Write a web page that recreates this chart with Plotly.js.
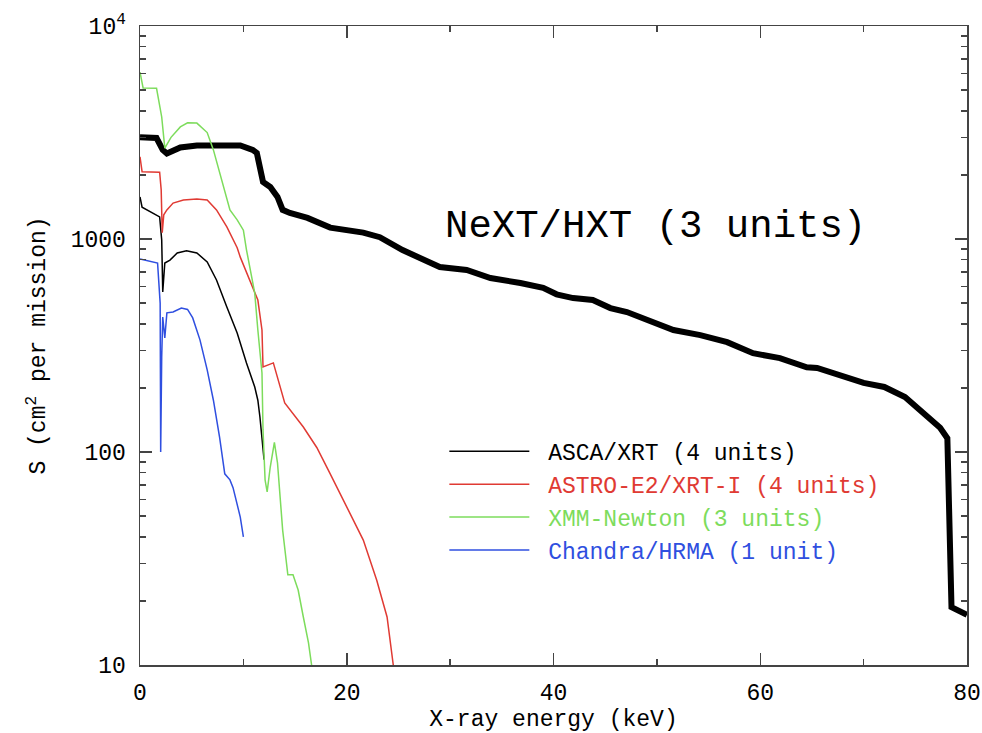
<!DOCTYPE html>
<html>
<head>
<meta charset="utf-8">
<script src="https://cdn.plot.ly/plotly-3.0.1.min.js"></script>
<style>html,body{margin:0;padding:0;background:#fff;}#chart{width:982px;height:733px;}</style>
</head>
<body>
<div id="chart"></div>
<script>
// NeXT/HXT (3 units)
var nextX = [0, 1.6, 2.2, 2.6, 3.9, 5.5, 9.7, 10.3, 10.9, 11.3, 11.6, 11.9, 12.6, 13.3, 13.8, 14.5, 16.2, 18.4, 21.6, 23.2, 25.4, 28.0, 29.0, 31.6, 33.9, 36.8, 39.0, 40.3, 41.9, 43.8, 45.5, 47.1, 48.7, 51.6, 54.2, 56.8, 59.3, 61.9, 64.5, 65.5, 70.0, 72.0, 74.0, 76.0, 77.4, 78.1, 78.5, 80.0];
var nextY = [3000, 2980, 2620, 2520, 2690, 2750, 2750, 2705, 2620, 2535, 2180, 1854, 1755, 1575, 1370, 1325, 1256, 1131, 1072, 1020, 887, 771, 739, 715, 656, 621, 590, 550, 528, 517, 474, 454, 426, 374, 354, 328, 291, 276, 250, 248, 211, 202, 181, 149, 130, 116, 18.7, 17.2];

// ASCA/XRT (4 units)
var ascaX = [0, 0.2, 1.9, 2.1, 2.2, 2.4, 2.9, 3.6, 4.5, 5.5, 6.5, 7.4, 8.4, 9.4, 10.3, 11.1, 11.4, 11.6, 12.0];
var ascaY = [1575, 1410, 1270, 990, 564, 771, 796, 860, 880, 860, 780, 642, 480, 362, 262, 202, 175, 146, 92];

// ASTRO-E2/XRT-I (4 units)
var astroX = [0, 0.2, 1.9, 2.05, 2.15, 2.3, 2.6, 3.2, 4.2, 5.5, 6.5, 7.4, 8.4, 9.4, 9.7, 10.6, 11.4, 11.8, 11.9, 12.9, 14.0, 15.8, 17.1, 18.4, 20.0, 21.6, 22.9, 23.9, 24.5];
var astroY = [2430, 2070, 2060, 1700, 1070, 1300, 1370, 1475, 1525, 1540, 1525, 1370, 1140, 910, 822, 642, 517, 374, 251, 262, 170, 131, 105, 79, 55, 38.6, 25, 16.8, 10];

// XMM-Newton (3 units)
var xmmX = [0, 0.3, 1.6, 2.1, 2.4, 3.0, 3.9, 4.6, 5.5, 6.5, 7.1, 7.7, 8.7, 9.4, 10.0, 10.3, 10.7, 11.1, 11.4, 11.8, 11.9, 12.1, 12.3, 12.6, 13.0, 13.3, 13.8, 14.3, 14.8, 15.3, 15.8, 16.3, 16.6];
var xmmY = [6080, 5120, 5100, 3740, 2670, 3000, 3360, 3510, 3500, 3160, 2620, 2040, 1370, 1230, 1100, 890, 700, 557, 374, 235, 127, 74, 65, 85, 111, 89, 43, 26.5, 26.5, 22.5, 16.8, 12.7, 10];

// Chandra/HRMA (1 unit)
var chandraX = [0, 1.0, 1.7, 1.95, 2.0, 2.1, 2.2, 2.4, 2.6, 3.2, 4.0, 4.6, 5.1, 5.8, 6.5, 7.1, 7.7, 8.2, 8.7, 9.0, 9.7, 10.0];
var chandraY = [805, 788, 771, 500, 100, 280, 430, 343, 450, 454, 474, 467, 426, 336, 243, 175, 117, 79, 74, 68, 49.5, 40];

var yTickVals = [10, 100, 1000, 10000];
var yTickText = ["10", "100", "1000", "10<sup>4</sup>"];
var xTickVals = [0, 20, 40, 60, 80];

var seriesNames = ["ASCA/XRT (4 units)", "ASTRO-E2/XRT-I (4 units)", "XMM-Newton (3 units)", "Chandra/HRMA (1 unit)"];
var colors = ["#000000", "#e03a33", "#7ddc5c", "#2f4fe0"];

function nm(i){ return '<span style="color:' + colors[i] + '">\u00A0' + seriesNames[i] + '</span>'; }

var traces = [
  {x: nextX, y: nextY, mode: 'lines', line: {color: '#000', width: 6}, showlegend: false, name: 'NeXT/HXT (3 units)'},
  {x: ascaX, y: ascaY, mode: 'lines', line: {color: colors[0], width: 1.5}, name: nm(0)},
  {x: astroX, y: astroY, mode: 'lines', line: {color: colors[1], width: 1.5}, name: nm(1)},
  {x: xmmX, y: xmmY, mode: 'lines', line: {color: colors[2], width: 1.5}, name: nm(2)},
  {x: chandraX, y: chandraY, mode: 'lines', line: {color: colors[3], width: 1.5}, name: nm(3)}
];

var tickFont = {family: 'Liberation Mono, monospace', size: 23, color: '#000'};

var layout = {
  width: 982, height: 733,
  margin: {l: 140, r: 15, t: 26, b: 68},
  paper_bgcolor: '#fff', plot_bgcolor: '#fff',
  showlegend: true,
  legend: {x: 0.368, y: 0.368, xanchor: 'left', yanchor: 'top', bgcolor: 'rgba(0,0,0,0)',
           font: {family: 'Liberation Mono, monospace', size: 23}, itemwidth: 80, tracegroupgap: 0},
  xaxis: {
    range: [0, 80], showgrid: false, zeroline: false,
    showline: true, linecolor: '#444', linewidth: 1.5, mirror: 'ticks',
    ticks: 'inside', ticklen: 12, tickwidth: 1.5, tickcolor: '#444',
    tickvals: xTickVals, tickfont: tickFont, ticklabelstandoff: 6,
    minor: {tickvals: [10, 30, 50, 70], ticks: 'inside', ticklen: 6, tickwidth: 1.5, tickcolor: '#444', showgrid: false},
    title: {text: 'X-ray energy (keV)', font: tickFont, standoff: 8}
  },
  yaxis: {
    type: 'log', range: [1, 4], showgrid: false, zeroline: false,
    showline: true, linecolor: '#444', linewidth: 1.5, mirror: 'ticks',
    ticks: 'inside', ticklen: 12, tickwidth: 1.5, tickcolor: '#444',
    tickvals: yTickVals, ticktext: yTickText, tickfont: tickFont, ticklabelstandoff: 8,
    minor: {dtick: 'D1', ticks: 'inside', ticklen: 6, tickwidth: 1.5, tickcolor: '#444', showgrid: false},
    title: {text: 'S (cm<sup>2</sup> per mission)', font: tickFont, standoff: 18}
  },
  annotations: [
    {text: 'NeXT/HXT (3 units)', xref: 'x', yref: 'y', x: 49.9, y: 3.055, showarrow: false,
     font: {family: 'Liberation Mono, monospace', size: 39, color: '#000'}, xanchor: 'center', yanchor: 'middle'}
  ]
};

Plotly.newPlot('chart', traces, layout, {displayModeBar: false, staticPlot: true});
</script>
</body>
</html>
